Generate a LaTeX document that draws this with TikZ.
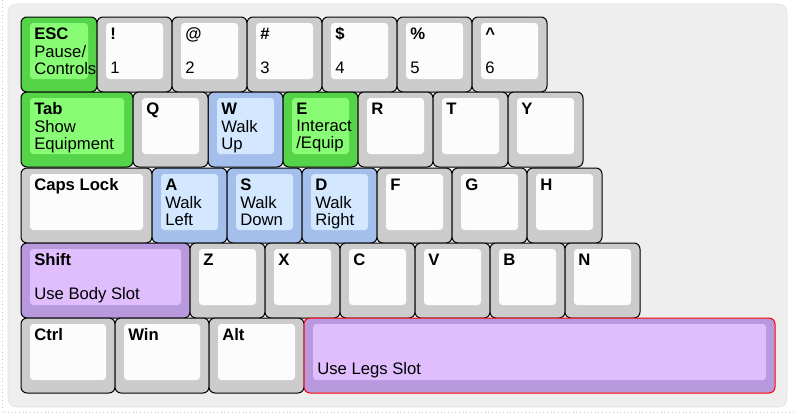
\documentclass[tikz,border=0pt]{standalone}
\usepackage{fontspec}
\setmainfont{Liberation Sans}
\usetikzlibrary{calc}
\definecolor{panelbg}{HTML}{EEEEEE}
\definecolor{panelln}{HTML}{E2E2E2}
\definecolor{keygray}{HTML}{CCCCCC}
\definecolor{capgray}{HTML}{FCFCFC}
\definecolor{keygreen}{HTML}{55D44A}
\definecolor{capgreen}{HTML}{88FC74}
\definecolor{keyblue}{HTML}{A4BFEB}
\definecolor{capblue}{HTML}{D3E8FF}
\definecolor{keypurple}{HTML}{B999DD}
\definecolor{cappurple}{HTML}{E0BEFE}
\tikzset{
  keyout/.style={draw=black, line width=0.75pt, rounded corners=4.5pt},
  capin/.style={rounded corners=2.5pt},
  grayout/.style={keyout, fill=keygray},
  grayin/.style={capin, fill=capgray},
  greenout/.style={keyout, fill=keygreen},
  greenin/.style={capin, fill=capgreen},
  blueout/.style={keyout, fill=keyblue},
  bluein/.style={capin, fill=capblue},
  purpleout/.style={keyout, fill=keypurple},
  purplein/.style={capin, fill=cappurple},
  legsout/.style={purpleout, draw=red},
  legsin/.style={purplein},
  klbl/.style={anchor=north west, inner sep=0pt, align=left,
    font=\fontsize{12.5}{12.75}\selectfont},
}
% one key: name, x, y, width, colour, text
\newcommand{\kbkey}[6]{%
  \draw[#5out] (#2,#3) rectangle ++(#4,75);
  \fill[#5in] (#2+9,#3+6) rectangle (#2+#4-9,#3+62);
  \node[klbl] (#1) at (#2+13,#3+10) {\strut#6};
}

\begin{document}
\begin{tikzpicture}[x=0.75pt,y=-0.75pt]
  \useasboundingbox (0,0) rectangle (796,414);
  \draw[dotted, gray!45, line width=0.75pt] (2,0) -- (2,412) -- (796,412);
  \draw[panelln, fill=panelbg, rounded corners=6pt] (8,4) rectangle (787,407);

  % row 1
  \kbkey{esc}{21}{17}{76}{green}{\textbf{ESC}\\Pause/\\Controls}
  \foreach \nm/\xx/\sym/\dig in {k1/97/!/1, k2/172/@/2, k3/247/\#/3,
      k4/322/\$/4, k5/397/\%/5, k6/472/\textasciicircum/6}
    \kbkey{\nm}{\xx}{17}{75}{gray}{\textbf{\sym}\\~\\\dig};

  % row 2
  \kbkey{tab}{21}{92}{112}{green}{\textbf{Tab}\\Show\\Equipment}
  \kbkey{kw}{208}{92}{75}{blue}{\textbf{W}\\Walk\\Up}
  \kbkey{ke}{283}{92}{75}{green}{\textbf{E}\\Interact\\/Equip}
  \foreach \nm/\xx in {Q/133, R/358, T/433, Y/508}
    \kbkey{k\nm}{\xx}{92}{75}{gray}{\textbf{\nm}};

  % row 3
  \kbkey{caps}{21}{168}{131}{gray}{\textbf{Caps Lock}}
  \kbkey{ka}{152}{168}{75}{blue}{\textbf{A}\\Walk\\Left}
  \kbkey{ks}{227}{168}{75}{blue}{\textbf{S}\\Walk\\Down}
  \kbkey{kd}{302}{168}{75}{blue}{\textbf{D}\\Walk\\Right}
  \foreach \nm/\xx in {F/377, G/452, H/527}
    \kbkey{k\nm}{\xx}{168}{75}{gray}{\textbf{\nm}};

  % row 4
  \kbkey{shift}{21}{243}{169}{purple}{\textbf{Shift}\\~\\Use Body Slot}
  \foreach \nm/\xx in {Z/190, X/265, C/340, V/415, B/490, N/565}
    \kbkey{k\nm}{\xx}{243}{75}{gray}{\textbf{\nm}};

  % row 5
  \kbkey{ctrl}{21}{318}{94}{gray}{\textbf{Ctrl}}
  \kbkey{win}{115}{318}{94}{gray}{\textbf{Win}}
  \kbkey{alt}{209}{318}{95}{gray}{\textbf{Alt}}
  \kbkey{space}{304}{318}{471}{legs}{~\\~\\Use Legs Slot}
\end{tikzpicture}
\end{document}
